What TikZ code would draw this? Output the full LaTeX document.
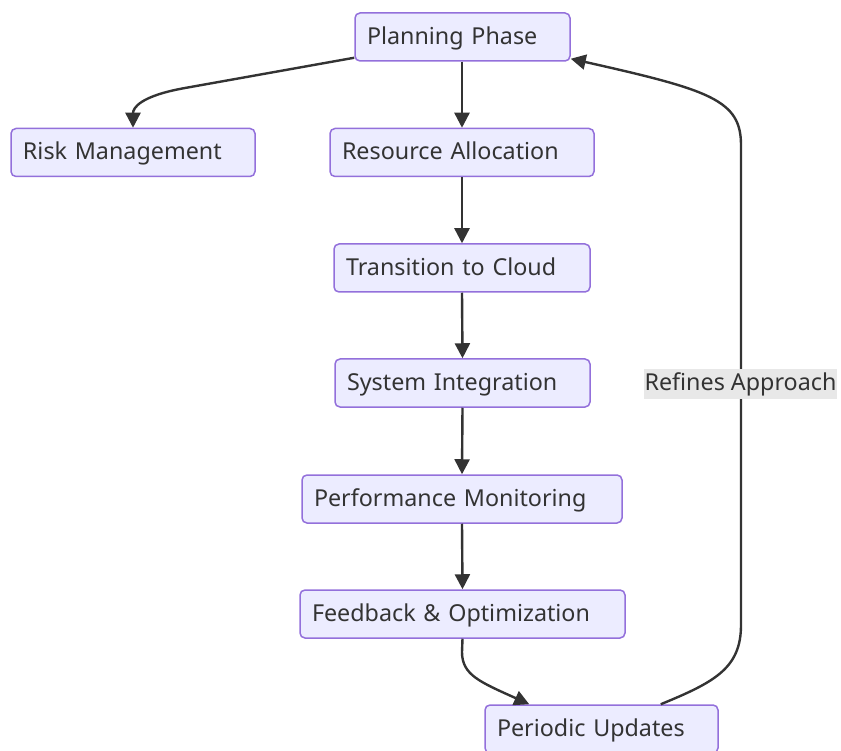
\documentclass[tikz,border=0pt]{standalone}
\usepackage{fontspec}
\setmainfont{Noto Sans}
\usetikzlibrary{arrows.meta,calc}
\definecolor{nodefill}{HTML}{ECECFF}
\definecolor{nodeborder}{HTML}{9370DB}
\definecolor{ink}{HTML}{333333}
\definecolor{lblbg}{HTML}{E8E8E8}
\tikzset{
  box/.style={draw=nodeborder, fill=nodefill, line width=1.5pt, rounded corners=5pt,
    minimum height=48pt, inner xsep=12pt, inner ysep=0pt, align=left, text=ink,
    text height=20pt, text depth=5pt,
    font=\fontsize{23.3}{27}\selectfont},
  link/.style={draw=ink, line width=2.4pt, -{Triangle[length=15pt,width=15pt]}},
  lbl/.style={fill=lblbg, text=ink, inner xsep=1pt, inner ysep=3pt, font=\fontsize{23.3}{27}\selectfont}
}
\begin{document}
\begin{tikzpicture}[x=1pt,y=-1pt]
\useasboundingbox (0,0) rectangle (841,751);
\node[box, text width=191pt] (P) at (462.5,37) {Planning Phase};
\node[box, text width=220pt] (R) at (133,152.5) {Risk Management};
\node[box, text width=240pt] (RA) at (462,152.5) {Resource Allocation};
\node[box, text width=232pt] (T) at (462,268) {Transition to Cloud};
\node[box, text width=231pt] (S) at (462.5,383) {System Integration};
\node[box, text width=296pt] (PM) at (462,499) {Performance Monitoring};
\node[box, text width=301pt] (F) at (462.5,614) {Feedback \& Optimization};
\node[box, text width=209pt] (U) at (601.5,729) {Periodic Updates};

\draw[link] ([yshift=4pt]P.south west) -- (185,88) .. controls (140,96) and (133,108) .. (R.north);
\draw[link] (P.south -| RA.north) -- (RA.north);
\draw[link] (RA.south) -- (T.north);
\draw[link] (T.south) -- (S.north);
\draw[link] (S.south) -- (PM.north);
\draw[link] (PM.south) -- (F.north);
\coordinate (Uin) at ([xshift=45pt]U.north west);
\coordinate (Uout) at ([xshift=-58pt]U.north east);
\draw[link] (F.south) -- (462,652) .. controls (462,675) and (480,682) .. (Uin);
\draw[link] (Uout) .. controls (715,682) and (741,668) .. (741,625) -- (741,145)
  .. controls (741,100) and (710,90) .. ([yshift=3pt]P.south east);
\node[lbl] (L) at (740.5,384) {Refines Approach};
\end{tikzpicture}
\end{document}
